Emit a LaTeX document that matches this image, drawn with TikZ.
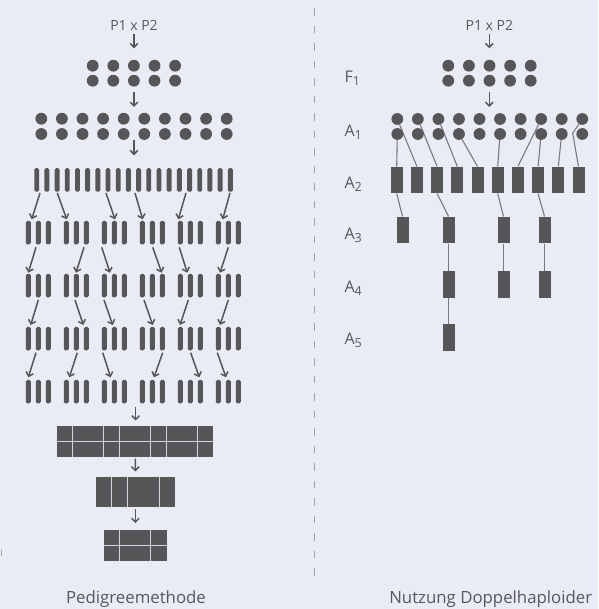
\documentclass[tikz,border=0pt]{standalone}
\usepackage{fontspec}
\setmainfont{Open Sans}
\usetikzlibrary{arrows.meta,calc}
\definecolor{bgc}{RGB}{233,235,245}
\definecolor{dk}{RGB}{86,86,88}
\definecolor{tx}{RGB}{88,88,92}
\definecolor{lnc}{RGB}{122,122,126}
\definecolor{dshc}{RGB}{160,160,168}
\definecolor{sepc}{RGB}{212,213,220}
\pgfdeclarelayer{back}
\pgfdeclarelayer{lines}
\pgfsetlayers{back,lines,main}
\newcommand{\gsub}[1]{{\fontsize{12.5}{14}\selectfont\raisebox{-3pt}{#1}}}
\begin{document}
\begin{tikzpicture}[x=1pt,y=-1pt,
  dot/.style={circle,fill=dk,inner sep=0pt,minimum size=11.8pt},
  pbar/.style={rectangle,fill=dk,inner sep=0pt,minimum width=4.9pt,minimum height=23.5pt,rounded corners=1.5pt},
  dbar/.style={rectangle,fill=dk,inner sep=0pt,minimum width=12pt,minimum height=26.7pt},
  blk/.style={rectangle,fill=dk,inner sep=0pt},
  sepline/.style={draw=sepc,line width=1pt},
  arr/.style={draw=dk,line width=1.5pt,-{Straight Barb[length=3.8pt,width=7.5pt]}},
  conn/.style={draw=lnc,line width=1.1pt},
  lbl/.style={text=tx,font=\fontsize{16}{18}\selectfont,inner sep=0pt,anchor=base west},
  ttl/.style={text=tx,font=\fontsize{16.8}{19}\selectfont,inner sep=0pt,anchor=base},
  crs/.style={text=tx,font=\fontsize{14}{16}\selectfont,inner sep=0pt,anchor=base},
  dsh/.style={draw=dshc,line width=1pt,dash pattern=on 7.5pt off 10pt}
]
\begin{pgfonlayer}{back}
\fill[bgc] (0,0) rectangle (598,609);
\end{pgfonlayer}

% ---------------- left: Pedigreemethode ----------------
\node[crs] (pL) at (134,30.7) {P1 x P2};
\foreach \k in {0,...,4}{
  \node[dot] (lft\k) at ({92.7+20.6*\k},65.7) {};
  \node[dot] (lfb\k) at ({92.7+20.6*\k},80.7) {};
}
\foreach \k in {0,...,9}{
  \node[dot] (lgt\k) at ({41.3+20.6*\k},118.7) {};
  \node[dot] (lgb\k) at ({41.3+20.6*\k},134) {};
}
\foreach \k in {0,...,19}
  \node[pbar] (tb\k) at ({36.7+10.19*\k},180) {};
\foreach \r/\y in {1/232.7,2/285.7,3/338.7,4/391.7}
  \foreach \g in {0,...,5}
    \foreach \j in {0,1,2}
      \node[pbar] (g\r\g\j) at ({38.3+38*\g+10*(\j-1)},\y) {};

\coordinate (la1s) at (134,34.5);  \coordinate (la1e) at (134,48.3);
\coordinate (la2s) at (134,92);    \coordinate (la2e) at (134,107);
\coordinate (la3s) at (134,140.5); \coordinate (la3e) at (134,155.3);
\coordinate (la4s) at (135.7,406.7); \coordinate (la4e) at (135.7,420.5);
\draw[arr] (la1s) -- (la1e);
\draw[arr] (la2s) -- (la2e);
\draw[arr] (la3s) -- (la3e);
\draw[arr] (la4s) -- (la4e);

\foreach \i/\sx/\sy/\ex/\ey in {
  1/40/193/31.7/219.3, 2/57.3/193/66.7/219.3, 3/106/193/115/219.3,
  4/135/193/142.7/219.3, 5/186/193/178.3/219.3, 6/230/193/222.7/219.3,
  7/36/247.3/28.3/272.7, 8/84/247.3/76/272.7, 9/101.7/247.3/110/272.7,
  10/152.7/247.3/161.7/272.7, 11/179.3/247.3/187.3/272.7, 12/228.3/247.3/220/272.7,
  13/38.3/300/30.7/325, 14/75/300/83.3/325, 15/104/300/112.7/325,
  16/144/300/152.7/325, 17/188.3/300/180/325, 18/228.3/300/220/325,
  19/36/352.7/28.3/377.3, 20/77.3/352.7/69.3/377.3, 21/102.7/352.7/110.7/377.3,
  22/162.7/352.7/154/377.3, 23/190.7/352.7/199.3/377.3, 24/217.3/352.7/226/377.3}{
  \coordinate (ps\i) at (\sx,\sy);
  \coordinate (pe\i) at (\ex,\ey);
  \draw[arr] (ps\i) -- (pe\i);
}

% blocks
\node[blk,minimum width=156pt,minimum height=30.7pt] (B1) at (135.3,441.35) {};
\node[blk,minimum width=78.7pt,minimum height=30pt] (B2) at (135.35,491.7) {};
\node[blk,minimum width=62.7pt,minimum height=30.7pt] (B3) at (135.35,545.35) {};
\draw[sepline] (B1.west) -- (B1.east);
\foreach \x in {72.7,103.3,119.3,150,166.7,197.3}
  \draw[sepline] (\x,426) -- (\x,456.7);
\foreach \x in {111.7,127.7,159}
  \draw[sepline] (\x,476.7) -- (\x,506.7);
\draw[sepline] (B3.west) -- (B3.east);
\foreach \x in {119.3,150.7}
  \draw[sepline] (\x,530) -- (\x,560.7);
\draw[arr,shorten <=1.8pt,shorten >=5pt] (B1.south) -- (B2.north);
\draw[arr,shorten <=2.3pt,shorten >=6.7pt] (B2.south) -- (B3.north);

\node[ttl] (tL) at (136,603.3) {Pedigreemethode};
\coordinate (tk1) at (1.5,549.5); \coordinate (tk2) at (1.5,556);
\draw[draw=dshc,line width=0.8pt] (tk1) -- (tk2);

% ---------------- divider ----------------
\coordinate (dv1) at (314.3,8.3); \coordinate (dv2) at (314.3,577);
\draw[dsh] (dv1) -- (dv2);

% ---------------- right: Doppelhaploide ----------------
\node[crs] (pR) at (489.3,30.7) {P1 x P2};
\coordinate (ra1s) at (489.3,34.5); \coordinate (ra1e) at (489.3,48.3);
\coordinate (ra2s) at (489.3,92);   \coordinate (ra2e) at (489.3,107);
\draw[arr] (ra1s) -- (ra1e);
\draw[arr] (ra2s) -- (ra2e);

\node[lbl] (F1) at (344.3,83) {F\gsub{1}};
\node[lbl] (A1) at (344.3,136.5) {A\gsub{1}};
\node[lbl] (A2) at (344.3,188.8) {A\gsub{2}};
\node[lbl] (A3) at (344.3,240) {A\gsub{3}};
\node[lbl] (A4) at (344.3,292.2) {A\gsub{4}};
\node[lbl] (A5) at (344.3,344.7) {A\gsub{5}};

\foreach \k in {0,...,4}{
  \node[dot] (rft\k) at ({448.3+20.6*\k},65.7) {};
  \node[dot] (rfb\k) at ({448.3+20.6*\k},80.7) {};
}
\foreach \k in {1,...,10}{
  \node[dot] (at\k) at ({397.3+20.55*(\k-1)},119) {};
  \node[dot] (ab\k) at ({397.3+20.55*(\k-1)},134) {};
  \node[dbar] (b\k) at ({396.7+20.2*(\k-1)},180) {};
}
\node[dbar] (c1) at (402.5,230) {};
\node[dbar] (c2) at (448.5,230) {};
\node[dbar] (c3) at (503.5,230) {};
\node[dbar] (c4) at (544.5,230) {};
\node[dbar] (d2) at (448.5,284.3) {};
\node[dbar] (d3) at (503.5,284.3) {};
\node[dbar] (d4) at (544.5,284.3) {};
\node[dbar] (e2) at (448.5,337.3) {};
\coordinate (kink) at (572.7,133.3);

\begin{pgfonlayer}{lines}
\draw[conn] (ab1) -- (b1.north);
\draw[conn] (at1) -- (b2.north);
\draw[conn] (at2) -- (b3.north);
\draw[conn] (at3) -- (b4.north);
\draw[conn] (ab4) -- (b5.north);
\draw[conn] (ab6) -- (b6.north);
\draw[conn] (at8) -- (b7.north);
\draw[conn] (ab8) -- (b8.north);
\draw[conn] (ab9) -- (b9.north);
\draw[conn] (at10) -- (kink) -- (b10.north);
\draw[conn] (b1.south) -- (c1.north);
\draw[conn] (b3.south) -- (c2.north);
\draw[conn] (b6.south) -- (c3.north);
\draw[conn] (b8.south) -- (c4.north);
\draw[conn] (c2.south) -- (d2.north);
\draw[conn] (c3.south) -- (d3.north);
\draw[conn] (c4.south) -- (d4.north);
\draw[conn] (d2.south) -- (e2.north);
\end{pgfonlayer}

\node[ttl] (tR) at (490.7,603.3) {Nutzung Doppelhaploider};
\useasboundingbox (0,0) rectangle (598,609);
\end{tikzpicture}
\end{document}
